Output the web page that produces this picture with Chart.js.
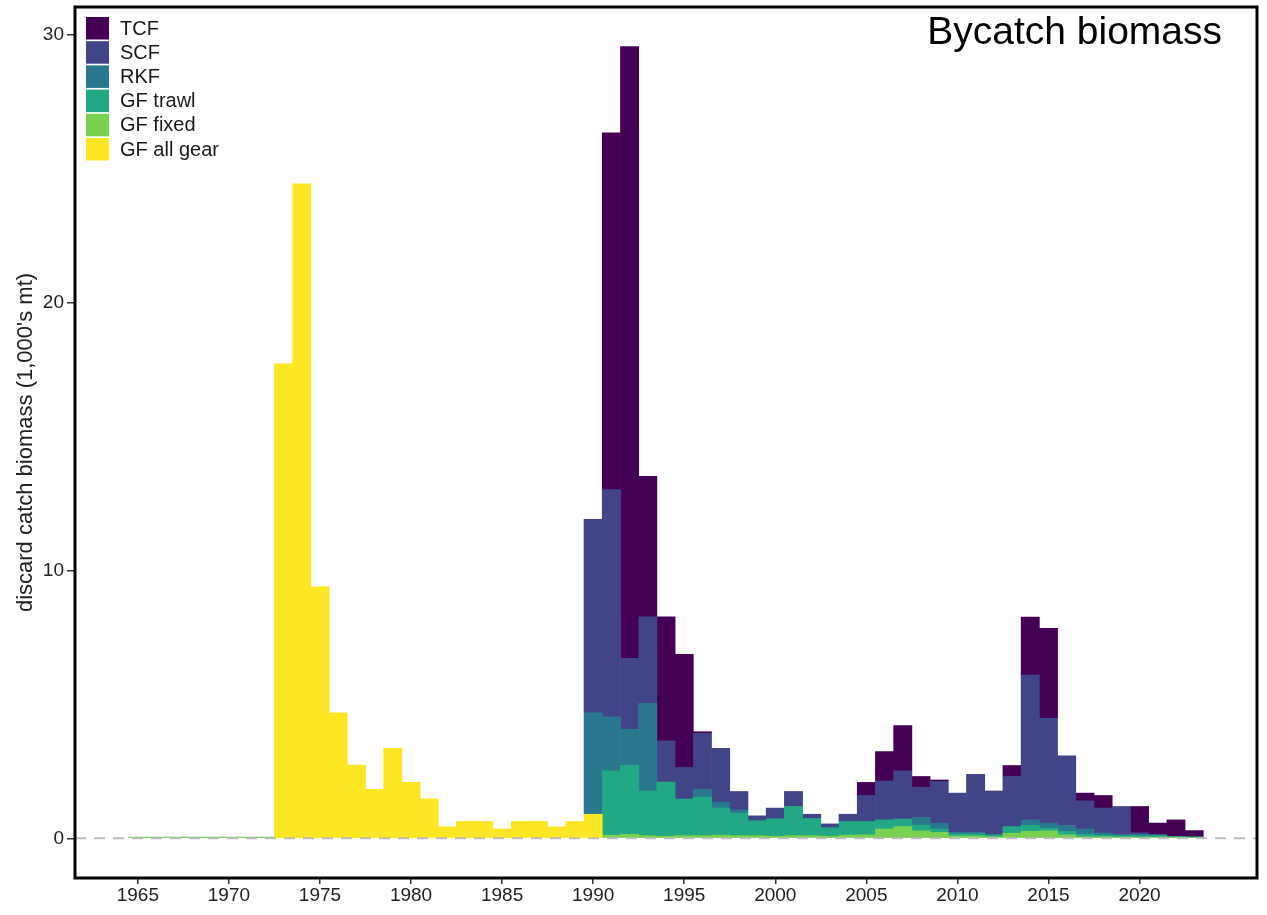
<!DOCTYPE html>
<html>
<head>
<meta charset="utf-8">
<script src="https://cdn.jsdelivr.net/npm/chart.js@4.4.0/dist/chart.umd.min.js"></script>
<style>
  html, body { margin: 0; padding: 0; background: #ffffff; }
  canvas { display: block; }
</style>
</head>
<body>
<canvas id="chart" width="1267" height="915"></canvas>
<script>
// Discarded catch biomass by fishery, 1,000's of metric tons per year
const years = [
  1965, 1966, 1967, 1968, 1969, 1970, 1971, 1972, 1973, 1974,
  1975, 1976, 1977, 1978, 1979, 1980, 1981, 1982, 1983, 1984,
  1985, 1986, 1987, 1988, 1989, 1990, 1991, 1992, 1993, 1994,
  1995, 1996, 1997, 1998, 1999, 2000, 2001, 2002, 2003, 2004,
  2005, 2006, 2007, 2008, 2009, 2010, 2011, 2012, 2013, 2014,
  2015, 2016, 2017, 2018, 2019, 2020, 2021, 2022, 2023
];

const gfAllGear = [
  0, 0, 0, 0, 0, 0, 0, 0, 17.72, 24.44,
  9.39, 4.69, 2.74, 1.83, 3.36, 2.09, 1.47, 0.43, 0.63, 0.63,
  0.35, 0.63, 0.63, 0.43, 0.63, 0.90, 0, 0, 0, 0,
  0, 0, 0, 0, 0, 0, 0, 0, 0, 0,
  0, 0, 0, 0, 0, 0, 0, 0, 0, 0,
  0, 0, 0, 0, 0, 0, 0, 0, 0
];

const gfFixed = [
  0.05, 0.05, 0.05, 0.05, 0.05, 0.05, 0.05, 0.05, 0, 0,
  0, 0, 0, 0, 0, 0, 0, 0, 0, 0,
  0, 0, 0, 0, 0, 0, 0.12, 0.15, 0.10, 0.08,
  0.10, 0.10, 0.12, 0.10, 0.10, 0.08, 0.10, 0.10, 0.08, 0.12,
  0.13, 0.35, 0.44, 0.28, 0.22, 0.09, 0.09, 0.06, 0.19, 0.26,
  0.28, 0.13, 0.06, 0.06, 0.05, 0.05, 0.05, 0.04, 0.04
];

const gfTrawl = [
  0, 0, 0, 0, 0, 0, 0, 0, 0, 0,
  0, 0, 0, 0, 0, 0, 0, 0, 0, 0,
  0, 0, 0, 0, 0, 0, 2.40, 2.57, 1.67, 2.02,
  1.37, 1.44, 1.01, 0.84, 0.56, 0.65, 1.09, 0.64, 0.32, 0.51,
  0.50, 0.34, 0.28, 0.22, 0.13, 0.08, 0.08, 0.06, 0.24, 0.23,
  0.10, 0.13, 0.09, 0.06, 0.05, 0.05, 0.05, 0.03, 0.02
];

const rkf = [
  0, 0, 0, 0, 0, 0, 0, 0, 0, 0,
  0, 0, 0, 0, 0, 0, 0, 0, 0, 0,
  0, 0, 0, 0, 0, 3.79, 2.02, 1.35, 3.27, 0,
  0, 0.29, 0.22, 0.12, 0, 0, 0, 0, 0, 0,
  0, 0, 0, 0.28, 0.22, 0.05, 0.05, 0.03, 0.02, 0.20,
  0.19, 0.22, 0.20, 0.08, 0.04, 0.05, 0.04, 0, 0
];

const scf = [
  0, 0, 0, 0, 0, 0, 0, 0, 0, 0,
  0, 0, 0, 0, 0, 0, 0, 0, 0, 0,
  0, 0, 0, 0, 0, 7.22, 8.48, 2.65, 3.23, 1.54,
  1.18, 2.09, 2.01, 0.69, 0.18, 0.40, 0.56, 0.16, 0.14, 0.27,
  0.97, 1.45, 1.80, 1.12, 1.55, 1.47, 2.17, 1.62, 1.86, 5.41,
  3.91, 2.60, 1.05, 0.93, 1.05, 0.06, 0, 0, 0
];

const tcf = [
  0, 0, 0, 0, 0, 0, 0, 0, 0, 0,
  0, 0, 0, 0, 0, 0, 0, 0, 0, 0,
  0, 0, 0, 0, 0, 0, 13.32, 22.84, 5.25, 4.63,
  4.22, 0.06, 0, 0, 0, 0, 0, 0, 0, 0,
  0.49, 1.10, 1.69, 0.41, 0.06, 0, 0, 0, 0.41, 2.16,
  3.36, 0, 0.29, 0.47, 0, 0.98, 0.43, 0.62, 0.23
];

const yearTicks = [1965, 1970, 1975, 1980, 1985, 1990, 1995, 2000, 2005, 2010, 2015, 2020];
const valueTicks = [0, 10, 20, 30];

// Stacked from the bottom up
const seriesNames = ['GF all gear', 'GF fixed', 'GF trawl', 'RKF', 'SCF', 'TCF'];
const seriesValues = [gfAllGear, gfFixed, gfTrawl, rkf, scf, tcf];
const seriesColors = ['#FDE725', '#7AD151', '#22A884', '#2A788E', '#414487', '#440154'];

const X_MIN = 1961.55, X_MAX = 2026.45;
const Y_MIN = -1.48, Y_MAX = 31.04;

const FONT = "'Liberation Sans', Arial, Helvetica, sans-serif";

// Empty years are left out so no sliver is painted for them
const barSets = seriesNames.map((name, k) => ({
  type: 'bar',
  label: name,
  data: years.map((yr, i) => ({ x: yr, y: seriesValues[k][i] === 0 ? null : seriesValues[k][i] })),
  backgroundColor: seriesColors[k],
  borderWidth: 0,
  barPercentage: 1,
  categoryPercentage: 1,
  order: 1
}));

const zeroLine = {
  type: 'line',
  label: 'zero',
  data: [{ x: X_MIN, y: 0 }, { x: X_MAX, y: 0 }],
  borderColor: '#bdbdbd',
  borderWidth: 2,
  borderDash: [11, 8],
  pointRadius: 0,
  fill: false,
  order: 0
};

// Panel frame, legend keys and the panel heading
const decorations = {
  id: 'decorations',
  afterDraw(chart) {
    const { ctx, chartArea: a } = chart;
    ctx.save();

    ctx.strokeStyle = '#000000';
    ctx.lineWidth = 3;
    ctx.strokeRect(a.left, a.top, a.right - a.left, a.bottom - a.top);

    const keyX = a.left + 11;
    const keyY = a.top + 10;
    const step = 24.2;
    ctx.font = '20px ' + FONT;
    ctx.textBaseline = 'middle';
    ctx.textAlign = 'left';
    const order = seriesNames.map((n, k) => k).reverse();
    order.forEach((k, row) => {
      const y = keyY + row * step;
      ctx.fillStyle = seriesColors[k];
      ctx.fillRect(keyX, y, 23, 22.5);
      ctx.fillStyle = '#1a1a1a';
      ctx.fillText(seriesNames[k], keyX + 34, y + 12);
    });

    ctx.font = '39px ' + FONT;
    ctx.textAlign = 'right';
    ctx.textBaseline = 'alphabetic';
    ctx.fillStyle = '#000000';
    ctx.fillText('Bycatch biomass', a.right - 35, a.top + 37);

    ctx.restore();
  }
};

new Chart(document.getElementById('chart'), {
  type: 'bar',
  data: { datasets: [...barSets, zeroLine] },
  options: {
    responsive: false,
    devicePixelRatio: 1,
    animation: false,
    layout: { padding: { top: 7, right: 10, left: 0, bottom: 0 } },
    plugins: {
      legend: { display: false },
      tooltip: { enabled: false },
      title: { display: false }
    },
    scales: {
      x: {
        type: 'linear',
        stacked: true,
        offset: false,
        min: X_MIN,
        max: X_MAX,
        afterBuildTicks: (s) => { s.ticks = yearTicks.map(v => ({ value: v })); },
        afterFit: (s) => { s.height = 37; s.paddingLeft = 0; s.paddingRight = 0; },
        grid: {
          offset: false,
          drawOnChartArea: false,
          drawTicks: true,
          tickLength: 6,
          color: '#333333',
          lineWidth: 1.5
        },
        border: { display: false },
        ticks: {
          autoSkip: false,
          maxRotation: 0,
          padding: 0,
          color: '#222222',
          font: { family: FONT, size: 19 },
          callback: (v) => String(v)
        }
      },
      y: {
        type: 'linear',
        stacked: true,
        min: Y_MIN,
        max: Y_MAX,
        afterBuildTicks: (s) => { s.ticks = valueTicks.map(v => ({ value: v })); },
        afterFit: (s) => { s.width = 75; s.paddingTop = 0; s.paddingBottom = 0; },
        grid: {
          drawOnChartArea: false,
          drawTicks: true,
          tickLength: 8,
          color: '#333333',
          lineWidth: 1.5
        },
        border: { display: false },
        ticks: {
          padding: 3,
          color: '#222222',
          font: { family: FONT, size: 19 },
          callback: (v) => String(v)
        },
        title: {
          display: true,
          text: "discard catch biomass (1,000's mt)",
          color: '#222222',
          font: { family: FONT, size: 22 },
          padding: { top: 13, bottom: 0 }
        }
      }
    }
  },
  plugins: [decorations]
});
</script>
</body>
</html>
